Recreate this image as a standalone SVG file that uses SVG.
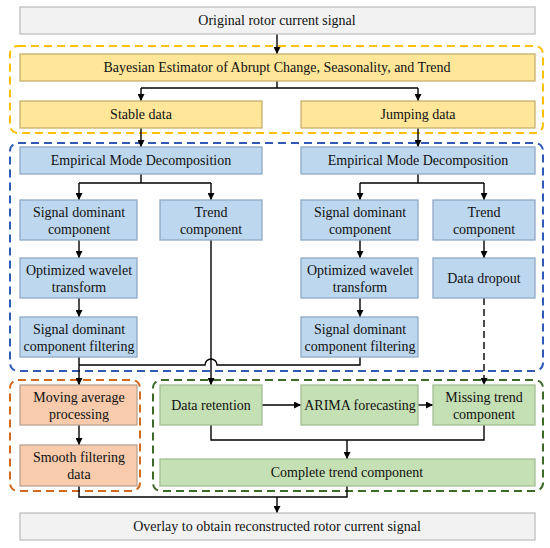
<svg xmlns="http://www.w3.org/2000/svg" width="550" height="548" viewBox="0 0 550 548">
<defs>
<marker id="ah" viewBox="0 0 10 10" refX="10" refY="5" markerWidth="7" markerHeight="7" markerUnits="userSpaceOnUse" orient="auto">
<path d="M0,0 L10,5 L0,10 z" fill="#000"/>
</marker>
<style>
text{font-family:"Liberation Serif",serif;font-size:14px;fill:#111;text-anchor:middle}
.gray{fill:#f2f2f2;stroke:#bfbfbf;stroke-width:1.3}
.yel{fill:#ffe699;stroke:#c8b06e;stroke-width:1.3}
.blu{fill:#bdd7ee;stroke:#8fa9c6;stroke-width:1.3}
.org{fill:#f8cbad;stroke:#b8a290;stroke-width:1.3}
.grn{fill:#c5e0b4;stroke:#a3bf92;stroke-width:1.3}
.cont{fill:none;stroke-width:2;stroke-dasharray:8 5}
.ln{fill:none;stroke:#000;stroke-width:1.4}
.arr{fill:none;stroke:#000;stroke-width:1.4;marker-end:url(#ah)}
</style>
</defs>
<g id="containers">
<rect class="cont" x="10" y="46" width="533" height="87" rx="8" stroke="#ffc000"/>
<rect class="cont" x="10" y="143" width="533" height="228" rx="8" stroke="#2f5bb7"/>
<rect class="cont" x="10" y="380" width="130" height="111" rx="8" stroke="#d2691e"/>
<rect class="cont" x="153" y="380" width="390" height="111" rx="8" stroke="#3d6b27"/>
</g>
<g id="connectors">
<path class="arr" d="M277,34 V54"/>
<path class="ln" d="M277,81 V88 M141,88 H418"/>
<path class="arr" d="M141,88 V101"/>
<path class="arr" d="M418,88 V101"/>
<path class="arr" d="M141,128 V147"/>
<path class="arr" d="M418,128 V147"/>
<path class="ln" d="M141,174 V183 M79,183 H211"/>
<path class="arr" d="M79,183 V200"/>
<path class="arr" d="M211,183 V200"/>
<path class="ln" d="M418,174 V183 M360,183 H484"/>
<path class="arr" d="M360,183 V200"/>
<path class="arr" d="M484,183 V200"/>
<path class="arr" d="M79,240 V258"/>
<path class="arr" d="M79,298 V317"/>
<path class="arr" d="M360,240 V258"/>
<path class="arr" d="M360,298 V317"/>
<path class="arr" d="M484,240 V258"/>
<path class="arr" d="M79,357 V385"/>
<path class="ln" d="M360,357 V365 H217 A6,6 0 0 0 205,365 H79"/>
<path class="arr" d="M211,240 V385"/>
<path class="arr" d="M484,298 V385" stroke-dasharray="7 4"/>
<path class="arr" d="M262,405 H301"/>
<path class="arr" d="M418,405 H433"/>
<path class="ln" d="M211,425 V440 H484 V425"/>
<path class="arr" d="M347,440 V459"/>
<path class="arr" d="M79,425 V445"/>
<path class="ln" d="M79,486 V497 H347 V486"/>
<path class="arr" d="M277,497 V513"/>
</g>
<g id="nodes">
<g id="n-original"><rect class="gray" x="20" y="7" width="515" height="27"/><text x="277" y="25">Original rotor current signal</text></g>
<g id="n-beast"><rect class="yel" x="20" y="54" width="515" height="27"/><text x="277" y="72">Bayesian Estimator of Abrupt Change, Seasonality, and Trend</text></g>
<g id="n-stable"><rect class="yel" x="20" y="101" width="242" height="27"/><text x="141" y="119">Stable data</text></g>
<g id="n-jumping"><rect class="yel" x="301" y="101" width="234" height="27"/><text x="418" y="119">Jumping data</text></g>
<g id="n-emd1"><rect class="blu" x="20" y="147" width="242" height="27"/><text x="141" y="165">Empirical Mode Decomposition</text></g>
<g id="n-emd2"><rect class="blu" x="301" y="147" width="234" height="27"/><text x="418" y="165">Empirical Mode Decomposition</text></g>
<g id="n-sdc1"><rect class="blu" x="20" y="200" width="117" height="40"/><text x="79" y="217">Signal dominant</text><text x="79" y="234">component</text></g>
<g id="n-trend1"><rect class="blu" x="160" y="200" width="102" height="40"/><text x="211" y="217">Trend</text><text x="211" y="234">component</text></g>
<g id="n-sdc2"><rect class="blu" x="301" y="200" width="117" height="40"/><text x="360" y="217">Signal dominant</text><text x="360" y="234">component</text></g>
<g id="n-trend2"><rect class="blu" x="433" y="200" width="102" height="40"/><text x="484" y="217">Trend</text><text x="484" y="234">component</text></g>
<g id="n-owt1"><rect class="blu" x="20" y="258" width="117" height="40"/><text x="79" y="275">Optimized wavelet</text><text x="79" y="292">transform</text></g>
<g id="n-owt2"><rect class="blu" x="301" y="258" width="117" height="40"/><text x="360" y="275">Optimized wavelet</text><text x="360" y="292">transform</text></g>
<g id="n-dropout"><rect class="blu" x="433" y="258" width="102" height="40"/><text x="484" y="283">Data dropout</text></g>
<g id="n-sdcf1"><rect class="blu" x="20" y="317" width="117" height="40"/><text x="79" y="334">Signal dominant</text><text x="79" y="351">component filtering</text></g>
<g id="n-sdcf2"><rect class="blu" x="301" y="317" width="117" height="40"/><text x="360" y="334">Signal dominant</text><text x="360" y="351">component filtering</text></g>
<g id="n-mavg"><rect class="org" x="20" y="385" width="117" height="40"/><text x="79" y="402">Moving average</text><text x="79" y="419">processing</text></g>
<g id="n-smooth"><rect class="org" x="20" y="445" width="117" height="41"/><text x="79" y="462">Smooth filtering</text><text x="79" y="479">data</text></g>
<g id="n-retention"><rect class="grn" x="160" y="385" width="102" height="40"/><text x="211" y="410">Data retention</text></g>
<g id="n-arima"><rect class="grn" x="301" y="385" width="117" height="40"/><text x="360" y="410">ARIMA forecasting</text></g>
<g id="n-missing"><rect class="grn" x="433" y="385" width="102" height="40"/><text x="484" y="402">Missing trend</text><text x="484" y="419">component</text></g>
<g id="n-complete"><rect class="grn" x="160" y="459" width="375" height="27"/><text x="347" y="477">Complete trend component</text></g>
<g id="n-overlay"><rect class="gray" x="20" y="513" width="515" height="27"/><text x="277" y="531">Overlay to obtain reconstructed rotor current signal</text></g>
</g>
</svg>
